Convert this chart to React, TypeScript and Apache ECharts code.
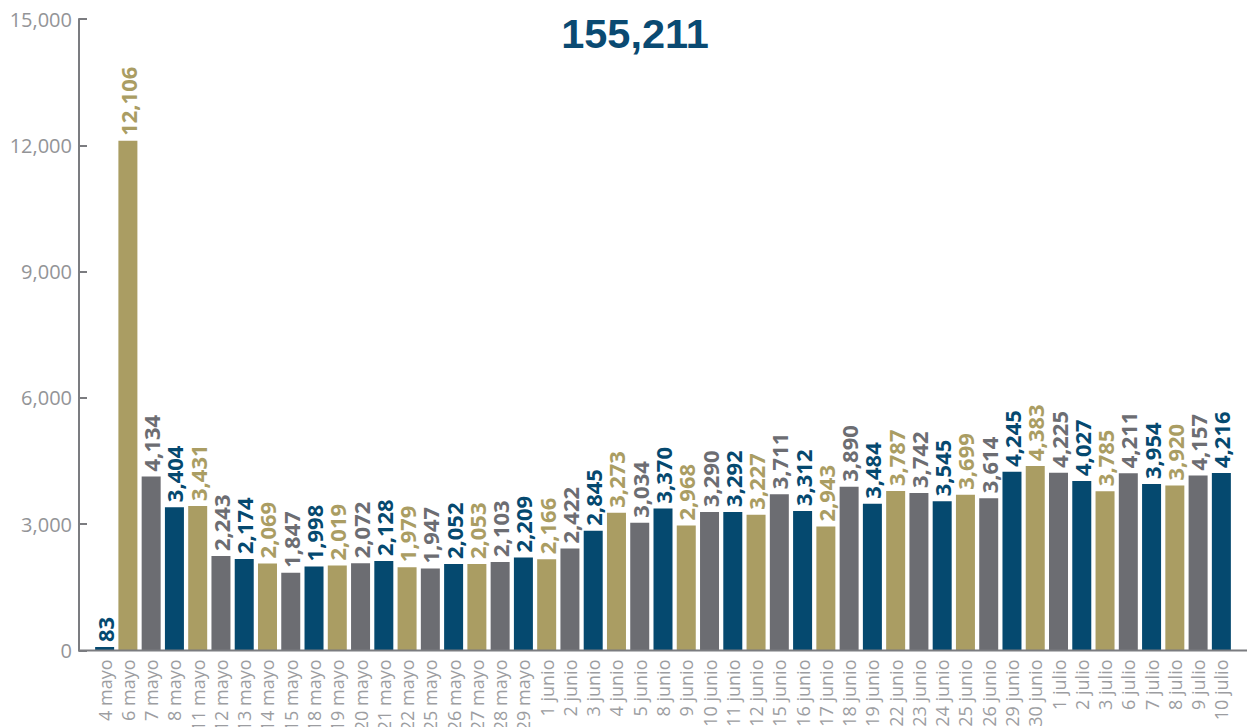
import React, { useEffect, useRef } from "react";
import * as echarts from "echarts";

const categories = [
  "4 mayo", "6 mayo", "7 mayo", "8 mayo", "11 mayo", "12 mayo", "13 mayo", "14 mayo", "15 mayo",
  "18 mayo", "19 mayo", "20 mayo", "21 mayo", "22 mayo", "25 mayo", "26 mayo", "27 mayo", "28 mayo",
  "29 mayo", "1 junio", "2 junio", "3 junio", "4 junio", "5 junio", "8 junio", "9 junio", "10 junio",
  "11 junio", "12 junio", "15 junio", "16 junio", "17 junio", "18 junio", "19 junio", "22 junio",
  "23 junio", "24 junio", "25 junio", "26 junio", "29 junio", "30 junio", "1 julio", "2 julio",
  "3 julio", "6 julio", "7 julio", "8 julio", "9 julio", "10 julio",
];

const values = [
  83, 12106, 4134, 3404, 3431, 2243, 2174, 2069, 1847,
  1998, 2019, 2072, 2128, 1979, 1947, 2052, 2053, 2103,
  2209, 2166, 2422, 2845, 3273, 3034, 3370, 2968, 3290,
  3292, 3227, 3711, 3312, 2943, 3890, 3484, 3787,
  3742, 3545, 3699, 3614, 4245, 4383, 4225, 4027,
  3785, 4211, 3954, 3920, 4157, 4216,
];

const totalLabel = "155,211";
const yTicks = [0, 3000, 6000, 9000, 12000, 15000];

const palette = ["#05496f", "#aa9d63", "#6c6d72"];

const fmt = (v: number) => v.toLocaleString("en-US");

export default function App() {
  const ref = useRef<HTMLDivElement>(null);
  useEffect(() => {
    document.body.style.margin = "0";
    if (!ref.current) return;
    const chart = echarts.init(ref.current, undefined, { renderer: "svg" });
    chart.setOption({
      animation: false,
      backgroundColor: "#ffffff",
      title: {
        text: totalLabel,
        left: 630,
        top: 7,
        textAlign: "center",
        textStyle: {
          fontFamily: "Liberation Sans",
          fontWeight: "bold",
          fontSize: 41.5,
          color: "#0a4a72",
        },
      },
      grid: {
        left: 93,
        right: 14,
        top: 19,
        bottom: 76.5,
        containLabel: false,
        outerBoundsMode: "none",
      },
      xAxis: {
        type: "category",
        data: categories,
        axisLine: { show: false },
        axisTick: { show: false },
        axisLabel: {
          rotate: 90,
          interval: 0,
          margin: 9,
          fontSize: 18,
          fontFamily: "Open Sans",
          fontWeight: "normal",
          color: "#9c9da1",
        },
      },
      yAxis: {
        type: "value",
        min: yTicks[0],
        max: yTicks[yTicks.length - 1],
        interval: 3000,
        offset: 14,
        splitLine: { show: false },
        axisLine: { show: true, lineStyle: { color: "#7b7c80", width: 2 } },
        axisTick: { show: true, inside: true, length: 8, lineStyle: { color: "#7b7c80", width: 2 } },
        axisLabel: {
          margin: 7,
          fontSize: 20,
          fontFamily: "Open Sans",
          fontWeight: "normal",
          color: "#939497",
          formatter: (v: number) => fmt(v),
        },
      },
      series: [
        {
          type: "bar",
          barWidth: 19,
          data: values.map((v, i) => ({
            value: v,
            itemStyle: { color: palette[i % 3] },
            label: { color: palette[i % 3] },
          })),
          label: {
            show: true,
            position: "top",
            rotate: 90,
            align: "left",
            verticalAlign: "middle",
            distance: 5,
            fontSize: 22,
            fontFamily: "Open Sans",
            fontWeight: "bold",
            formatter: (p: any) => fmt(p.value),
          },
        },
      ],
      graphic: [
        {
          type: "line",
          shape: { x1: 78, y1: 650.5, x2: 1247, y2: 650.5 },
          style: { stroke: "#7b7c80", lineWidth: 2 },
          z: 10,
        },
      ],
    });
    return () => chart.dispose();
  }, []);
  return <div ref={ref} style={{ width: 1247, height: 727 }} />;
}
